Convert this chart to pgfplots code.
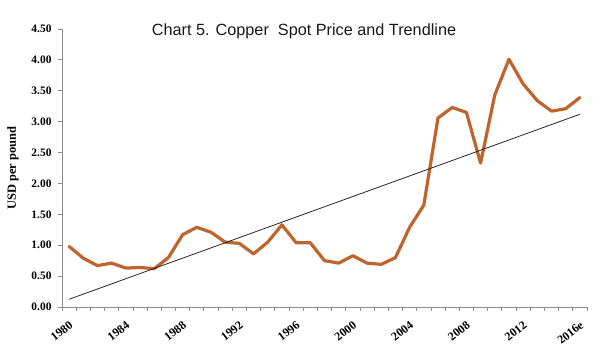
\documentclass[border=0pt]{standalone}
\usepackage{fontspec}
\setmainfont{Liberation Serif}
\newfontfamily\titlefont{Liberation Sans}
\usepackage{pgfplots}
\pgfplotsset{compat=1.18}
\definecolor{copper}{RGB}{192,100,45}
\definecolor{axgray}{RGB}{140,140,140}
\begin{document}
\begin{tikzpicture}
\useasboundingbox (0,0) rectangle (600bp,363bp);
\begin{axis}[
  at={(62bp,56bp)}, anchor=south west,
  scale only axis, width=525bp, height=278bp,
  xmin=-0.5, xmax=36.5, ymin=0, ymax=4.5,
  axis lines*=left,
  axis line style={draw=axgray, line width=0.8bp, -},
  tick align=outside,
  tick style={draw=axgray, line width=0.8bp},
  xtick={0,4,...,36},
  xticklabels={1980,1984,1988,1992,1996,2000,2004,2008,2012,2016e},
  minor xtick={-0.5,0.5,...,36.5},
  minor tick length=3.5bp,
  major tick length=4bp,
  every major x tick/.append style={draw=none},
  ytick={0,0.5,...,4.5},
  /pgf/number format/assume math mode=true,
  yticklabel style={font=\fontsize{11.5}{13}\selectfont\bfseries, xshift=-3bp,
    /pgf/number format/.cd, fixed, fixed zerofill, precision=2},
  xticklabel style={font=\fontsize{12}{13}\selectfont\bfseries, rotate=38, anchor=north east, inner sep=1bp, xshift=-5bp, yshift=-6bp},
  ylabel={USD per pound},
  ylabel style={font=\fontsize{12.5}{14}\selectfont\bfseries, at={(-49bp,0.5)}, anchor=center},
  clip=false,
]
\addplot[color=copper, line width=3.2bp, line join=round, line cap=round] coordinates {
(0,0.98) (1,0.79) (2,0.67) (3,0.71) (4,0.63) (5,0.64) (6,0.62) (7,0.80)
(8,1.17) (9,1.29) (10,1.21) (11,1.05) (12,1.03) (13,0.86) (14,1.05) (15,1.33)
(16,1.04) (17,1.04) (18,0.75) (19,0.71) (20,0.83) (21,0.71) (22,0.69) (23,0.80)
(24,1.29) (25,1.65) (26,3.06) (27,3.23) (28,3.15) (29,2.33) (30,3.43) (31,4.01)
(32,3.61) (33,3.34) (34,3.17) (35,3.21) (36,3.39)
};
\addplot[color=black!85, line width=0.8bp] coordinates {(0,0.125) (36,3.12)};
\end{axis}
\node[font=\titlefont\fontsize{16.3}{19}\selectfont, text=black!90] at (304bp,332bp) {Chart 5. Copper\ \ Spot Price and Trendline};
\end{tikzpicture}
\end{document}
